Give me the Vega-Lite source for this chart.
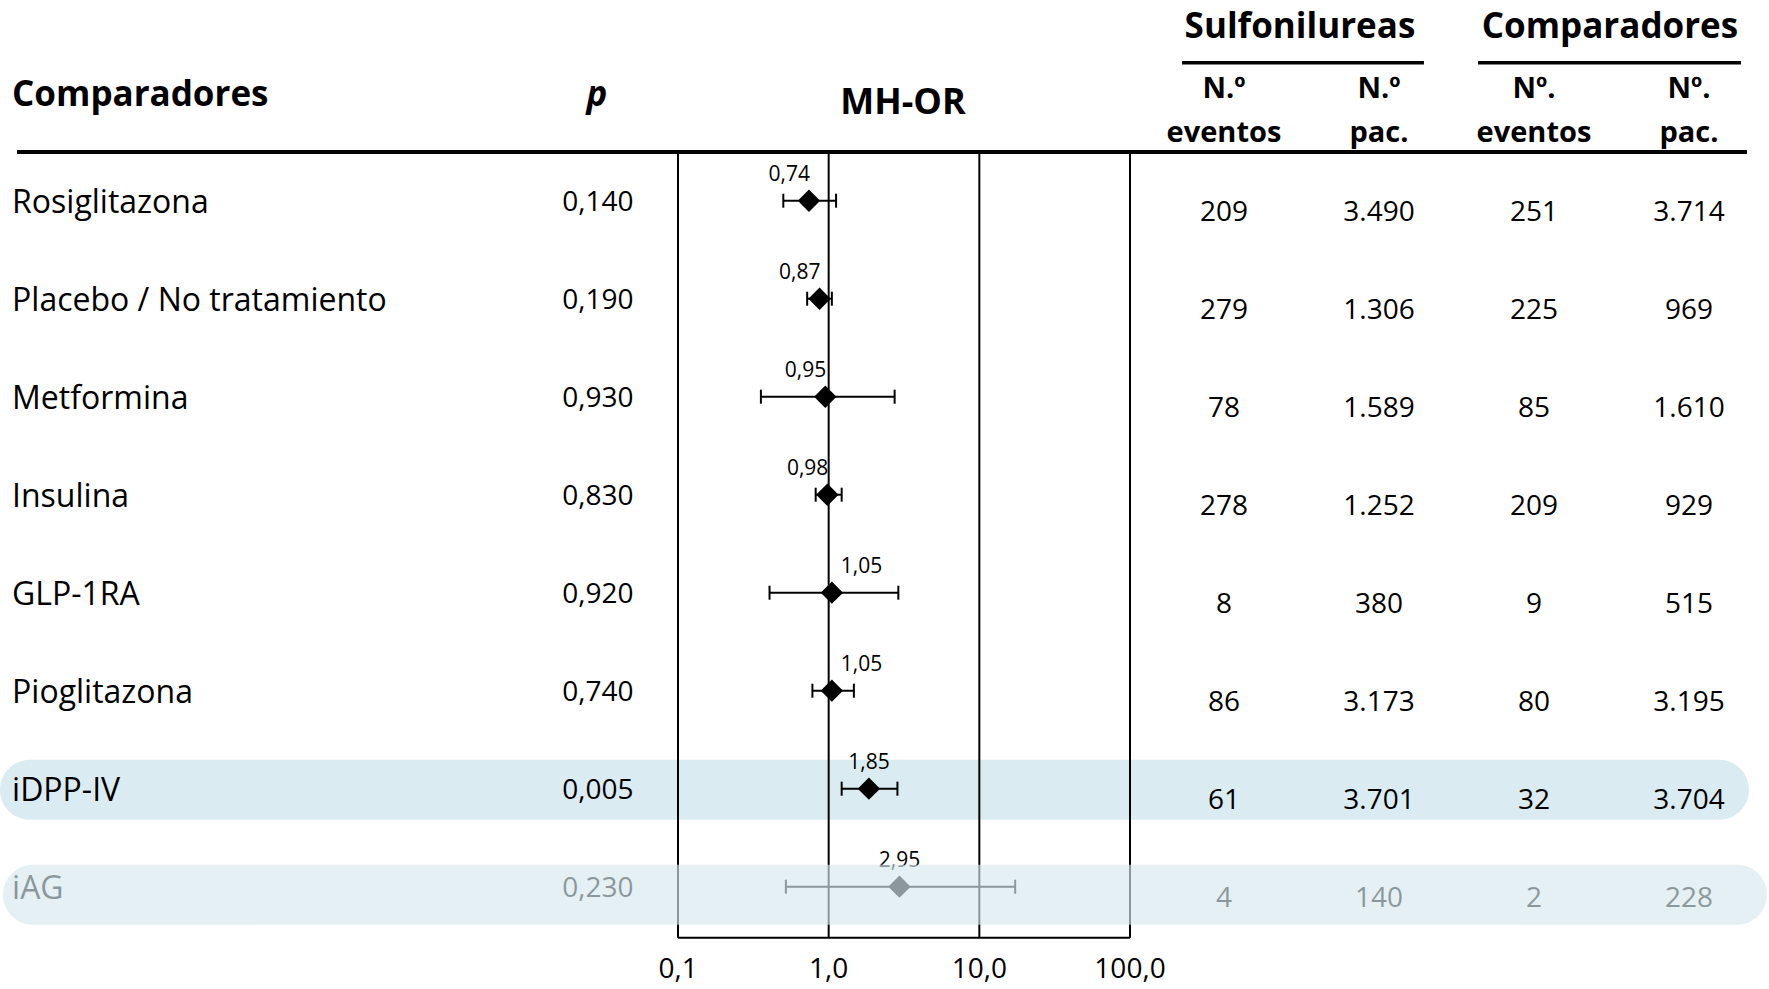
{
  "$schema": "https://vega.github.io/schema/vega-lite/v6.json",
  "width": 1769,
  "height": 989,
  "autosize": "none",
  "padding": 0,
  "background": "white",
  "config": {
    "view": {"stroke": null},
    "font": "Open Sans",
    "locale": {"number": {"decimal": ",", "thousands": ".", "grouping": [3], "currency": ["", " €"]}}
  },
  "datasets": {
    "rows": [
      {"row": 1, "name": "Rosiglitazona", "p": 0.140, "or": 0.74, "lo": 0.50, "hi": 1.12, "se": 209, "sp": 3490, "ce": 251, "cp": 3714},
      {"row": 2, "name": "Placebo / No tratamiento", "p": 0.190, "or": 0.87, "lo": 0.72, "hi": 1.05, "se": 279, "sp": 1306, "ce": 225, "cp": 969},
      {"row": 3, "name": "Metformina", "p": 0.930, "or": 0.95, "lo": 0.355, "hi": 2.74, "se": 78, "sp": 1589, "ce": 85, "cp": 1610},
      {"row": 4, "name": "Insulina", "p": 0.830, "or": 0.98, "lo": 0.82, "hi": 1.22, "se": 278, "sp": 1252, "ce": 209, "cp": 929},
      {"row": 5, "name": "GLP-1RA", "p": 0.920, "or": 1.05, "lo": 0.405, "hi": 2.9, "se": 8, "sp": 380, "ce": 9, "cp": 515},
      {"row": 6, "name": "Pioglitazona", "p": 0.740, "or": 1.05, "lo": 0.78, "hi": 1.47, "se": 86, "sp": 3173, "ce": 80, "cp": 3195},
      {"row": 7, "name": "iDPP-IV", "p": 0.005, "or": 1.85, "lo": 1.22, "hi": 2.86, "se": 61, "sp": 3701, "ce": 32, "cp": 3704},
      {"row": 8, "name": "iAG", "p": 0.230, "or": 2.95, "lo": 0.52, "hi": 17.3, "se": 4, "sp": 140, "ce": 2, "cp": 228}
    ],
    "ticks": [{"t": 0.1}, {"t": 1}, {"t": 10}, {"t": 100}]
  },
  "resolve": {"scale": {"x": "independent"}},
  "layer": [
    {
      "layer": [
        {
          "data": {"name": "rows"},
          "transform": [{"filter": "datum.name === 'iDPP-IV'"}],
          "mark": {"type": "bar", "orient": "horizontal", "height": 60, "cornerRadius": 30, "color": "#daecf2", "yOffset": 1},
          "encoding": {
            "x": {"datum": -7.897, "type": "quantitative", "scale": {"domain": [0, 3], "range": [1224, 1689], "nice": false, "zero": false, "padding": 0}, "axis": null},
            "x2": {"datum": 3.387},
            "y": {"field": "row", "type": "quantitative", "scale": {"domain": [-1.048, 9.044], "reverse": true, "nice": false, "zero": false, "padding": 0}, "axis": null}
          }
        },
        {
          "data": {"values": [{}]},
          "mark": {"type": "rule", "strokeWidth": 4, "color": "black"},
          "encoding": {
            "x": {"datum": -7.787, "type": "quantitative", "scale": {"domain": [0, 3], "range": [1224, 1689], "nice": false, "zero": false, "padding": 0}, "axis": null},
            "x2": {"datum": 3.374},
            "y": {"datum": 0.503, "type": "quantitative", "scale": {"domain": [-1.048, 9.044], "reverse": true, "nice": false, "zero": false, "padding": 0}, "axis": null}
          }
        },
        {
          "data": {"values": [{}]},
          "mark": {"type": "rule", "strokeWidth": 3.5, "color": "black"},
          "encoding": {
            "x": {"datum": -0.271, "type": "quantitative", "axis": null},
            "x2": {"datum": 1.29},
            "y": {"datum": -0.407, "type": "quantitative", "axis": null}
          }
        },
        {
          "data": {"values": [{}]},
          "mark": {"type": "rule", "strokeWidth": 3.5, "color": "black"},
          "encoding": {
            "x": {"datum": 1.639, "type": "quantitative", "axis": null},
            "x2": {"datum": 3.335},
            "y": {"datum": -0.407, "type": "quantitative", "axis": null}
          }
        },
        {
          "data": {"values": [{}]},
          "mark": {"type": "text", "align": "left", "baseline": "alphabetic", "fontSize": 35, "fontWeight": "bold", "color": "black"},
          "encoding": {
            "x": {"datum": -7.819, "type": "quantitative", "axis": null},
            "y": {"datum": 0.034, "type": "quantitative", "axis": null},
            "text": {"value": "Comparadores"}
          }
        },
        {
          "data": {"values": [{}]},
          "mark": {"type": "text", "align": "center", "baseline": "alphabetic", "fontSize": 35, "fontWeight": "bold", "fontStyle": "italic", "color": "black"},
          "encoding": {
            "x": {"datum": -4.045, "type": "quantitative", "axis": null},
            "y": {"datum": 0.034, "type": "quantitative", "axis": null},
            "text": {"value": "p"}
          }
        },
        {
          "data": {"values": [{}]},
          "mark": {"type": "text", "align": "center", "baseline": "alphabetic", "fontSize": 36, "fontWeight": "bold", "color": "black"},
          "encoding": {
            "x": {"datum": -2.071, "type": "quantitative", "axis": null},
            "y": {"datum": 0.115, "type": "quantitative", "axis": null},
            "text": {"value": "MH-OR"}
          }
        },
        {
          "data": {"values": [{}]},
          "mark": {"type": "text", "align": "center", "baseline": "alphabetic", "fontSize": 35, "fontWeight": "bold", "color": "black"},
          "encoding": {
            "x": {"datum": 0.49, "type": "quantitative", "axis": null},
            "y": {"datum": -0.66, "type": "quantitative", "axis": null},
            "text": {"value": "Sulfonilureas"}
          }
        },
        {
          "data": {"values": [{}]},
          "mark": {"type": "text", "align": "center", "baseline": "alphabetic", "fontSize": 35, "fontWeight": "bold", "color": "black"},
          "encoding": {
            "x": {"datum": 2.49, "type": "quantitative", "axis": null},
            "y": {"datum": -0.66, "type": "quantitative", "axis": null},
            "text": {"value": "Comparadores"}
          }
        },
        {
          "data": {"values": [{}]},
          "mark": {"type": "text", "align": "center", "baseline": "alphabetic", "fontSize": 29, "fontWeight": "bold", "lineHeight": 44, "color": "black"},
          "encoding": {
            "x": {"datum": 0, "type": "quantitative", "axis": null},
            "y": {"datum": -0.051, "type": "quantitative", "axis": null},
            "text": {"value": ["N.º", "eventos"]}
          }
        },
        {
          "data": {"values": [{}]},
          "mark": {"type": "text", "align": "center", "baseline": "alphabetic", "fontSize": 29, "fontWeight": "bold", "lineHeight": 44, "color": "black"},
          "encoding": {
            "x": {"datum": 1, "type": "quantitative", "axis": null},
            "y": {"datum": -0.051, "type": "quantitative", "axis": null},
            "text": {"value": ["N.º", "pac."]}
          }
        },
        {
          "data": {"values": [{}]},
          "mark": {"type": "text", "align": "center", "baseline": "alphabetic", "fontSize": 29, "fontWeight": "bold", "lineHeight": 44, "color": "black"},
          "encoding": {
            "x": {"datum": 2, "type": "quantitative", "axis": null},
            "y": {"datum": -0.051, "type": "quantitative", "axis": null},
            "text": {"value": ["Nº.", "eventos"]}
          }
        },
        {
          "data": {"values": [{}]},
          "mark": {"type": "text", "align": "center", "baseline": "alphabetic", "fontSize": 29, "fontWeight": "bold", "lineHeight": 44, "color": "black"},
          "encoding": {
            "x": {"datum": 3, "type": "quantitative", "axis": null},
            "y": {"datum": -0.051, "type": "quantitative", "axis": null},
            "text": {"value": ["Nº.", "pac."]}
          }
        }
      ]
    },
    {
      "layer": [
        {
          "data": {"name": "ticks"},
          "mark": {"type": "rule", "strokeWidth": 2, "color": "black"},
          "encoding": {
            "x": {"field": "t", "type": "quantitative", "scale": {"type": "log", "domain": [0.1, 100], "range": [678, 1130], "nice": false, "padding": 0}, "axis": null},
            "y": {"datum": 0.503, "type": "quantitative", "scale": {"domain": [-1.048, 9.044], "reverse": true, "nice": false, "zero": false, "padding": 0}, "axis": null},
            "y2": {"datum": 8.52}
          }
        },
        {
          "data": {"values": [{}]},
          "mark": {"type": "rule", "strokeWidth": 2, "color": "black"},
          "encoding": {
            "x": {"datum": 0.1, "type": "quantitative", "axis": null},
            "x2": {"datum": 100},
            "y": {"datum": 8.52, "type": "quantitative", "axis": null}
          }
        },
        {
          "data": {"name": "ticks"},
          "mark": {"type": "text", "align": "center", "baseline": "middle", "fontSize": 28, "color": "black"},
          "encoding": {
            "x": {"field": "t", "type": "quantitative", "axis": null},
            "y": {"datum": 8.85, "type": "quantitative", "axis": null},
            "text": {"field": "t", "type": "quantitative", "format": ".1f"}
          }
        }
      ]
    },
    {
      "data": {"name": "rows"},
      "layer": [
        {
          "mark": {"type": "text", "align": "left", "baseline": "middle", "fontSize": 32, "dy": 2, "color": "black"},
          "encoding": {
            "x": {"datum": -7.819, "type": "quantitative", "scale": {"domain": [0, 3], "range": [1224, 1689], "nice": false, "zero": false, "padding": 0}, "axis": null},
            "y": {"field": "row", "type": "quantitative", "scale": {"domain": [-1.048, 9.044], "reverse": true, "nice": false, "zero": false, "padding": 0}, "axis": null},
            "text": {"field": "name", "type": "nominal"}
          }
        },
        {
          "mark": {"type": "text", "align": "center", "baseline": "middle", "fontSize": 28, "dy": 2, "color": "black"},
          "encoding": {
            "x": {"datum": -4.039, "type": "quantitative", "axis": null},
            "y": {"field": "row", "type": "quantitative", "axis": null},
            "text": {"field": "p", "type": "quantitative", "format": ".3f"}
          }
        },
        {
          "mark": {"type": "text", "align": "center", "baseline": "middle", "fontSize": 28, "dy": 12, "color": "black"},
          "encoding": {
            "x": {"datum": 0, "type": "quantitative", "axis": null},
            "y": {"field": "row", "type": "quantitative", "axis": null},
            "text": {"field": "se", "type": "quantitative", "format": "d"}
          }
        },
        {
          "mark": {"type": "text", "align": "center", "baseline": "middle", "fontSize": 28, "dy": 12, "color": "black"},
          "encoding": {
            "x": {"datum": 1, "type": "quantitative", "axis": null},
            "y": {"field": "row", "type": "quantitative", "axis": null},
            "text": {"field": "sp", "type": "quantitative", "format": ",d"}
          }
        },
        {
          "mark": {"type": "text", "align": "center", "baseline": "middle", "fontSize": 28, "dy": 12, "color": "black"},
          "encoding": {
            "x": {"datum": 2, "type": "quantitative", "axis": null},
            "y": {"field": "row", "type": "quantitative", "axis": null},
            "text": {"field": "ce", "type": "quantitative", "format": "d"}
          }
        },
        {
          "mark": {"type": "text", "align": "center", "baseline": "middle", "fontSize": 28, "dy": 12, "color": "black"},
          "encoding": {
            "x": {"datum": 3, "type": "quantitative", "axis": null},
            "y": {"field": "row", "type": "quantitative", "axis": null},
            "text": {"field": "cp", "type": "quantitative", "format": ",d"}
          }
        }
      ]
    },
    {
      "data": {"name": "rows"},
      "layer": [
        {
          "mark": {"type": "rule", "strokeWidth": 2, "color": "black"},
          "encoding": {
            "x": {"field": "lo", "type": "quantitative", "scale": {"type": "log", "domain": [0.1, 100], "range": [678, 1130], "nice": false, "padding": 0}, "axis": null},
            "x2": {"field": "hi"},
            "y": {"field": "row", "type": "quantitative", "scale": {"domain": [-1.048, 9.044], "reverse": true, "nice": false, "zero": false, "padding": 0}, "axis": null}
          }
        },
        {
          "mark": {"type": "tick", "orient": "vertical", "size": 14, "thickness": 2, "color": "black", "opacity": 1},
          "encoding": {
            "x": {"field": "lo", "type": "quantitative", "axis": null},
            "y": {"field": "row", "type": "quantitative", "axis": null}
          }
        },
        {
          "mark": {"type": "tick", "orient": "vertical", "size": 14, "thickness": 2, "color": "black", "opacity": 1},
          "encoding": {
            "x": {"field": "hi", "type": "quantitative", "axis": null},
            "y": {"field": "row", "type": "quantitative", "axis": null}
          }
        },
        {
          "mark": {"type": "point", "shape": "diamond", "filled": true, "size": 500, "color": "black", "opacity": 1},
          "encoding": {
            "x": {"field": "or", "type": "quantitative", "axis": null},
            "y": {"field": "row", "type": "quantitative", "axis": null}
          }
        },
        {
          "transform": [{"filter": "datum.or < 1"}],
          "mark": {"type": "text", "align": "right", "baseline": "middle", "fontSize": 21, "dx": 1, "dy": -26, "color": "black"},
          "encoding": {
            "x": {"field": "or", "type": "quantitative", "axis": null},
            "y": {"field": "row", "type": "quantitative", "axis": null},
            "text": {"field": "or", "type": "quantitative", "format": ".2f"}
          }
        },
        {
          "transform": [{"filter": "datum.or >= 1 && datum.or < 1.5"}],
          "mark": {"type": "text", "align": "left", "baseline": "middle", "fontSize": 21, "dx": 9, "dy": -26, "color": "black"},
          "encoding": {
            "x": {"field": "or", "type": "quantitative", "axis": null},
            "y": {"field": "row", "type": "quantitative", "axis": null},
            "text": {"field": "or", "type": "quantitative", "format": ".2f"}
          }
        },
        {
          "transform": [{"filter": "datum.or >= 1.5"}],
          "mark": {"type": "text", "align": "center", "baseline": "middle", "fontSize": 21, "dy": -26, "color": "black"},
          "encoding": {
            "x": {"field": "or", "type": "quantitative", "axis": null},
            "y": {"field": "row", "type": "quantitative", "axis": null},
            "text": {"field": "or", "type": "quantitative", "format": ".2f"}
          }
        }
      ]
    },
    {
      "data": {"name": "rows"},
      "transform": [{"filter": "datum.name === 'iAG'"}],
      "mark": {"type": "bar", "orient": "horizontal", "height": 60, "cornerRadius": 30, "color": "#d6e8ee", "opacity": 0.65, "yOffset": 8},
      "encoding": {
        "x": {"datum": -7.877, "type": "quantitative", "scale": {"domain": [0, 3], "range": [1224, 1689], "nice": false, "zero": false, "padding": 0}, "axis": null},
        "x2": {"datum": 3.503},
        "y": {"field": "row", "type": "quantitative", "scale": {"domain": [-1.048, 9.044], "reverse": true, "nice": false, "zero": false, "padding": 0}, "axis": null}
      }
    }
  ]
}
